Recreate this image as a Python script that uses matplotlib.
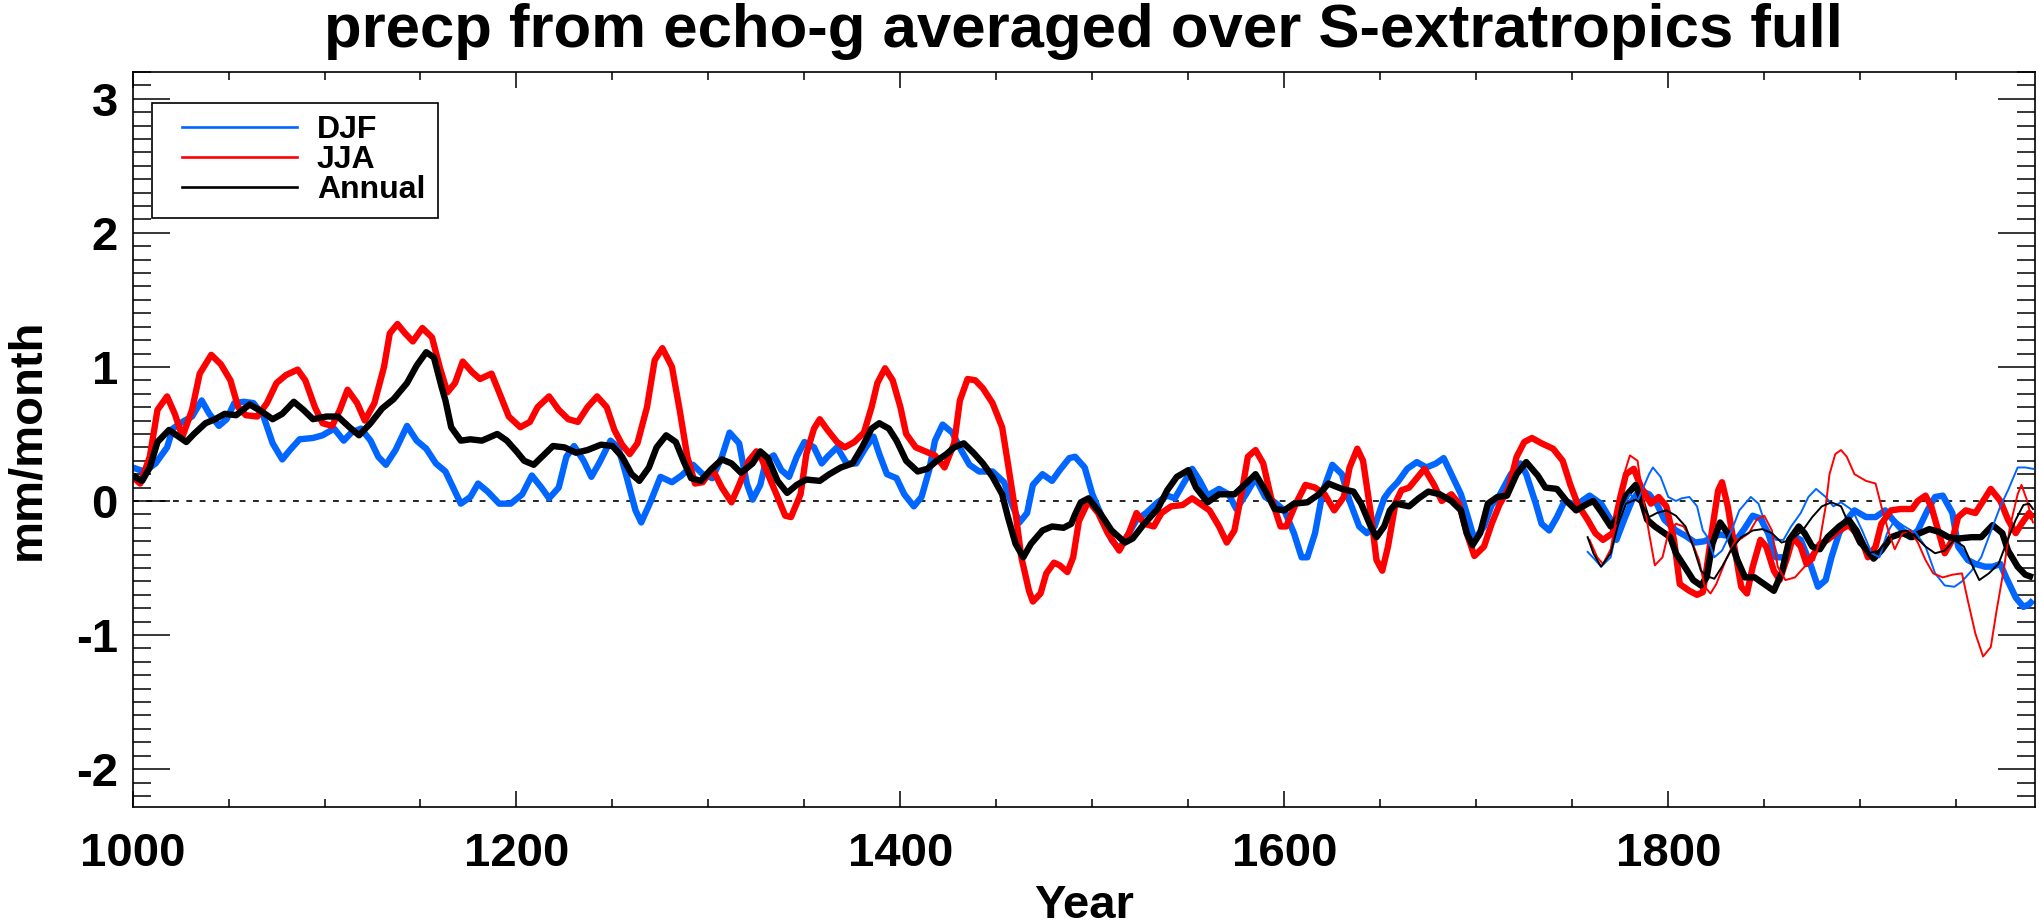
import numpy as np
import matplotlib
matplotlib.use('Agg')
import matplotlib.pyplot as plt
from matplotlib.lines import Line2D
from matplotlib.legend_handler import HandlerLine2D
from matplotlib.ticker import MultipleLocator

plt.rcParams['font.family'] = ['Liberation Sans', 'DejaVu Sans']
plt.rcParams['font.weight'] = 'bold'
plt.rcParams['axes.unicode_minus'] = False

# (year, mm/month), full run 1000-1990
djf_full = [
    (1000, 0.25), (1006, 0.22), (1012, 0.28), (1018, 0.40), (1021, 0.54), (1026, 0.59),
    (1031, 0.63), (1036, 0.75), (1040, 0.65), (1045, 0.56), (1049, 0.61), (1053, 0.73),
    (1058, 0.74), (1063, 0.73), (1068, 0.64), (1073, 0.43), (1078, 0.31), (1082, 0.38),
    (1087, 0.46), (1094, 0.47), (1099, 0.49), (1105, 0.54), (1110, 0.45), (1114, 0.51),
    (1119, 0.54), (1124, 0.45), (1128, 0.33), (1132, 0.27), (1137, 0.38), (1143, 0.56),
    (1148, 0.45), (1153, 0.39), (1158, 0.28), (1163, 0.22), (1167, 0.10), (1171, -0.02),
    (1176, 0.03), (1180, 0.13), (1185, 0.07), (1191, -0.02), (1197, -0.02), (1203, 0.05),
    (1208, 0.19), (1213, 0.10), (1217, 0.02), (1222, 0.10), (1226, 0.33), (1230, 0.41),
    (1235, 0.30), (1239, 0.18), (1243, 0.28), (1249, 0.45), (1253, 0.40), (1257, 0.20),
    (1262, -0.07), (1265, -0.16), (1270, 0.00), (1275, 0.18), (1281, 0.14), (1286, 0.19),
    (1292, 0.27), (1297, 0.20), (1302, 0.17), (1307, 0.33), (1311, 0.51), (1316, 0.43),
    (1320, 0.13), (1323, 0.01), (1327, 0.12), (1330, 0.30), (1334, 0.34), (1338, 0.23),
    (1342, 0.18), (1346, 0.33), (1350, 0.44), (1355, 0.40), (1359, 0.28), (1362, 0.33),
    (1367, 0.40), (1372, 0.28), (1377, 0.28), (1382, 0.40), (1386, 0.48), (1389, 0.35),
    (1393, 0.20), (1398, 0.17), (1402, 0.05), (1407, -0.04), (1411, 0.03), (1415, 0.23),
    (1418, 0.45), (1422, 0.57), (1427, 0.51), (1432, 0.37), (1436, 0.27), (1441, 0.22),
    (1448, 0.22), (1454, 0.14), (1458, -0.02), (1462, -0.16), (1466, -0.09), (1469, 0.12),
    (1474, 0.20), (1479, 0.15), (1483, 0.23), (1488, 0.32), (1491, 0.33), (1496, 0.25),
    (1500, 0.05), (1505, -0.12), (1510, -0.29), (1514, -0.36), (1519, -0.24), (1523, -0.14),
    (1528, -0.09), (1534, -0.01), (1539, 0.04), (1543, 0.02), (1547, 0.12), (1552, 0.24),
    (1556, 0.15), (1560, 0.04), (1566, 0.09), (1571, 0.05), (1575, -0.06), (1580, 0.05),
    (1585, 0.17), (1590, 0.03), (1595, -0.01), (1600, -0.07), (1605, -0.24), (1609, -0.42),
    (1612, -0.42), (1616, -0.24), (1620, 0.07), (1625, 0.27), (1630, 0.20), (1634, 0.00),
    (1639, -0.19), (1643, -0.24), (1647, -0.19), (1652, 0.02), (1655, 0.08), (1659, 0.14),
    (1664, 0.24), (1669, 0.29), (1674, 0.25), (1679, 0.28), (1683, 0.32), (1687, 0.20),
    (1692, 0.05), (1696, -0.14), (1699, -0.29), (1704, -0.19), (1708, -0.03), (1712, 0.04),
    (1718, 0.20), (1723, 0.28), (1726, 0.20), (1731, -0.02), (1734, -0.17), (1738, -0.22),
    (1742, -0.12), (1746, 0.00), (1752, -0.03), (1759, 0.04), (1765, -0.02), (1770, -0.14),
    (1773, -0.29), (1777, -0.14), (1781, 0.00), (1785, 0.08), (1790, 0.05), (1794, -0.02),
    (1798, -0.14), (1804, -0.22), (1809, -0.26), (1814, -0.31), (1819, -0.30), (1823, -0.27),
    (1827, -0.25), (1831, -0.26), (1836, -0.28), (1840, -0.20), (1844, -0.11), (1848, -0.13),
    (1852, -0.24), (1856, -0.42), (1861, -0.42), (1865, -0.26), (1869, -0.29), (1874, -0.47),
    (1878, -0.64), (1882, -0.59), (1885, -0.42), (1889, -0.24), (1893, -0.14), (1897, -0.07),
    (1903, -0.12), (1908, -0.12), (1913, -0.07), (1917, -0.14), (1922, -0.22), (1926, -0.27),
    (1930, -0.22), (1935, -0.07), (1939, 0.03), (1943, 0.04), (1948, -0.09), (1951, -0.34),
    (1956, -0.44), (1960, -0.47), (1965, -0.49), (1969, -0.49), (1973, -0.47), (1976, -0.57),
    (1981, -0.72), (1985, -0.79), (1988, -0.77), (1990, -0.74),
]

jja_full = [
    (1000, 0.18), (1004, 0.13), (1009, 0.33), (1013, 0.68), (1018, 0.78), (1022, 0.65),
    (1026, 0.48), (1031, 0.68), (1035, 0.95), (1041, 1.09), (1046, 1.02), (1051, 0.90),
    (1055, 0.70), (1059, 0.64), (1065, 0.63), (1070, 0.73), (1075, 0.88), (1080, 0.94),
    (1086, 0.98), (1090, 0.90), (1095, 0.70), (1099, 0.58), (1104, 0.56), (1108, 0.68),
    (1112, 0.83), (1117, 0.73), (1121, 0.60), (1126, 0.73), (1131, 1.00), (1134, 1.25),
    (1138, 1.32), (1142, 1.25), (1146, 1.19), (1151, 1.29), (1156, 1.22), (1160, 1.00),
    (1164, 0.81), (1168, 0.88), (1172, 1.04), (1177, 0.96), (1181, 0.91), (1187, 0.95),
    (1191, 0.81), (1196, 0.63), (1202, 0.55), (1207, 0.59), (1211, 0.70), (1217, 0.78),
    (1222, 0.68), (1227, 0.61), (1232, 0.59), (1237, 0.70), (1242, 0.78), (1247, 0.70),
    (1251, 0.53), (1255, 0.42), (1259, 0.35), (1263, 0.43), (1268, 0.70), (1272, 1.05),
    (1276, 1.14), (1281, 1.00), (1285, 0.68), (1289, 0.33), (1293, 0.13), (1297, 0.14),
    (1302, 0.24), (1307, 0.10), (1312, -0.01), (1316, 0.12), (1321, 0.30), (1325, 0.37),
    (1327, 0.34), (1331, 0.20), (1336, 0.03), (1340, -0.11), (1343, -0.12), (1348, 0.05),
    (1351, 0.35), (1355, 0.54), (1358, 0.61), (1362, 0.53), (1367, 0.44), (1371, 0.40),
    (1376, 0.44), (1381, 0.51), (1385, 0.70), (1388, 0.88), (1392, 0.99), (1396, 0.90),
    (1400, 0.70), (1403, 0.50), (1408, 0.40), (1413, 0.37), (1418, 0.34), (1423, 0.25),
    (1428, 0.43), (1431, 0.75), (1435, 0.91), (1439, 0.90), (1443, 0.84), (1448, 0.73),
    (1453, 0.55), (1456, 0.28), (1460, -0.09), (1463, -0.42), (1467, -0.67), (1469, -0.75),
    (1473, -0.69), (1476, -0.54), (1480, -0.46), (1483, -0.48), (1487, -0.53), (1490, -0.42),
    (1493, -0.15), (1498, 0.00), (1503, -0.09), (1508, -0.24), (1514, -0.37), (1519, -0.24),
    (1523, -0.09), (1527, -0.17), (1532, -0.19), (1536, -0.09), (1541, -0.04), (1547, -0.03),
    (1552, 0.02), (1556, -0.02), (1561, -0.07), (1566, -0.19), (1570, -0.31), (1574, -0.22),
    (1578, 0.08), (1581, 0.33), (1585, 0.38), (1589, 0.28), (1593, 0.03), (1598, -0.19),
    (1601, -0.19), (1606, -0.02), (1611, 0.12), (1616, 0.10), (1621, 0.05), (1626, -0.07),
    (1631, 0.03), (1634, 0.25), (1638, 0.39), (1641, 0.30), (1645, -0.09), (1648, -0.44),
    (1651, -0.52), (1654, -0.34), (1658, -0.01), (1661, 0.08), (1665, 0.10), (1669, 0.17),
    (1673, 0.24), (1678, 0.12), (1682, 0.00), (1687, 0.05), (1691, -0.02), (1695, -0.24),
    (1699, -0.41), (1704, -0.34), (1708, -0.17), (1712, -0.03), (1717, 0.10), (1721, 0.33),
    (1725, 0.44), (1729, 0.47), (1734, 0.43), (1740, 0.39), (1745, 0.30), (1749, 0.12),
    (1753, -0.03), (1758, -0.14), (1762, -0.24), (1766, -0.29), (1771, -0.24), (1775, 0.03),
    (1778, 0.20), (1782, 0.24), (1786, 0.10), (1791, -0.02), (1795, 0.03), (1799, -0.04),
    (1803, -0.29), (1806, -0.62), (1811, -0.67), (1815, -0.70), (1818, -0.68), (1820, -0.50),
    (1823, -0.20), (1826, 0.08), (1828, 0.14), (1831, -0.04), (1835, -0.39), (1838, -0.64),
    (1841, -0.69), (1844, -0.49), (1848, -0.29), (1851, -0.34), (1855, -0.52), (1858, -0.59),
    (1862, -0.42), (1865, -0.27), (1869, -0.34), (1872, -0.47), (1876, -0.39), (1879, -0.32),
    (1883, -0.29), (1889, -0.22), (1894, -0.18), (1898, -0.24), (1902, -0.34), (1904, -0.42),
    (1908, -0.34), (1911, -0.17), (1916, -0.07), (1921, -0.06), (1927, -0.06), (1930, 0.00),
    (1934, 0.04), (1937, -0.04), (1941, -0.24), (1944, -0.39), (1948, -0.29), (1951, -0.12),
    (1955, -0.07), (1960, -0.09), (1964, 0.00), (1968, 0.09), (1973, 0.00), (1977, -0.14),
    (1981, -0.24), (1984, -0.17), (1988, -0.09), (1990, -0.13),
]

ann_full = [
    (1000, 0.19), (1005, 0.15), (1009, 0.25), (1013, 0.44), (1019, 0.53), (1023, 0.49),
    (1028, 0.44), (1032, 0.50), (1038, 0.58), (1043, 0.61), (1048, 0.65), (1054, 0.64),
    (1061, 0.72), (1067, 0.67), (1073, 0.61), (1078, 0.65), (1084, 0.74), (1089, 0.68),
    (1094, 0.61), (1101, 0.63), (1107, 0.63), (1113, 0.55), (1118, 0.49), (1124, 0.58),
    (1130, 0.69), (1136, 0.76), (1143, 0.88), (1148, 1.01), (1153, 1.11), (1157, 1.07),
    (1161, 0.85), (1163, 0.75), (1166, 0.55), (1171, 0.45), (1176, 0.46), (1182, 0.45),
    (1190, 0.50), (1195, 0.45), (1200, 0.37), (1204, 0.30), (1209, 0.27), (1214, 0.34),
    (1219, 0.41), (1225, 0.40), (1231, 0.36), (1237, 0.38), (1244, 0.42), (1250, 0.41),
    (1255, 0.33), (1260, 0.20), (1264, 0.15), (1269, 0.25), (1273, 0.40), (1278, 0.49),
    (1283, 0.44), (1287, 0.30), (1291, 0.17), (1296, 0.15), (1301, 0.23), (1307, 0.31),
    (1312, 0.28), (1317, 0.21), (1323, 0.28), (1327, 0.37), (1331, 0.32), (1336, 0.15),
    (1341, 0.06), (1346, 0.12), (1351, 0.16), (1358, 0.15), (1363, 0.20), (1369, 0.25),
    (1375, 0.28), (1380, 0.40), (1385, 0.54), (1389, 0.58), (1394, 0.54), (1398, 0.45),
    (1403, 0.30), (1409, 0.22), (1414, 0.24), (1419, 0.30), (1424, 0.35), (1428, 0.40),
    (1433, 0.43), (1438, 0.36), (1443, 0.28), (1448, 0.18), (1453, 0.05), (1456, -0.12),
    (1460, -0.32), (1464, -0.42), (1468, -0.32), (1474, -0.22), (1479, -0.19), (1485, -0.20),
    (1489, -0.17), (1491, -0.10), (1494, -0.01), (1498, 0.02), (1504, -0.09), (1510, -0.22),
    (1517, -0.31), (1521, -0.28), (1527, -0.17), (1534, -0.06), (1539, 0.08), (1544, 0.18),
    (1550, 0.23), (1554, 0.10), (1560, -0.01), (1566, 0.05), (1574, 0.05), (1580, 0.13),
    (1585, 0.20), (1590, 0.08), (1595, -0.06), (1600, -0.07), (1605, -0.02), (1612, -0.01),
    (1618, 0.05), (1623, 0.13), (1630, 0.09), (1636, 0.07), (1640, -0.02), (1645, -0.19),
    (1648, -0.27), (1652, -0.19), (1655, -0.07), (1658, -0.02), (1665, -0.04), (1670, 0.02),
    (1675, 0.07), (1681, 0.05), (1687, 0.00), (1692, -0.07), (1695, -0.24), (1698, -0.33),
    (1702, -0.24), (1706, -0.02), (1711, 0.03), (1716, 0.04), (1721, 0.20), (1726, 0.29),
    (1732, 0.19), (1736, 0.10), (1742, 0.09), (1747, 0.00), (1752, -0.07), (1758, -0.02),
    (1761, 0.00), (1765, -0.08), (1770, -0.19), (1774, -0.12), (1778, 0.04), (1783, 0.12),
    (1785, 0.05), (1789, -0.14), (1793, -0.19), (1797, -0.23), (1801, -0.27), (1804, -0.39),
    (1809, -0.50), (1813, -0.59), (1817, -0.63), (1820, -0.57), (1823, -0.32), (1827, -0.16),
    (1831, -0.24), (1836, -0.44), (1840, -0.57), (1845, -0.57), (1850, -0.62), (1855, -0.67),
    (1859, -0.54), (1863, -0.29), (1868, -0.19), (1871, -0.24), (1875, -0.34), (1879, -0.36),
    (1883, -0.27), (1889, -0.19), (1894, -0.14), (1898, -0.22), (1902, -0.34), (1907, -0.43),
    (1911, -0.37), (1916, -0.27), (1922, -0.24), (1927, -0.27), (1931, -0.24), (1936, -0.21),
    (1941, -0.23), (1946, -0.27), (1951, -0.28), (1958, -0.27), (1963, -0.27), (1969, -0.18),
    (1974, -0.24), (1977, -0.37), (1982, -0.49), (1986, -0.55), (1990, -0.57),
]

# thin curves: second set, 1758-1990
djf_late = [
    (1758, -0.38), (1762, -0.44), (1765, -0.49), (1770, -0.42), (1773, -0.22), (1777, -0.04),
    (1780, 0.05), (1784, 0.00), (1787, 0.10), (1790, 0.20), (1792, 0.25), (1796, 0.18),
    (1800, 0.03), (1804, 0.00), (1807, 0.02), (1811, 0.03), (1815, -0.04), (1818, -0.22),
    (1820, -0.26), (1824, -0.42), (1828, -0.37), (1833, -0.22), (1837, -0.07), (1843, 0.03),
    (1847, -0.02), (1851, -0.19), (1856, -0.29), (1860, -0.29), (1864, -0.19), (1869, -0.09),
    (1873, 0.03), (1877, 0.09), (1882, 0.03), (1886, -0.04), (1890, -0.01), (1896, -0.07),
    (1901, -0.22), (1906, -0.39), (1910, -0.42), (1914, -0.24), (1918, -0.14), (1923, -0.19),
    (1929, -0.24), (1934, -0.34), (1939, -0.54), (1944, -0.63), (1949, -0.64), (1953, -0.60),
    (1958, -0.52), (1963, -0.42), (1969, -0.19), (1973, -0.04), (1977, 0.08), (1982, 0.25),
    (1986, 0.25), (1990, 0.24),
]

jja_late = [
    (1759, -0.29), (1763, -0.42), (1766, -0.47), (1770, -0.36), (1773, -0.12), (1777, 0.20),
    (1780, 0.34), (1784, 0.30), (1786, 0.10), (1790, -0.24), (1793, -0.48), (1797, -0.42),
    (1800, -0.24), (1804, -0.17), (1808, -0.19), (1812, -0.29), (1816, -0.44), (1819, -0.64),
    (1822, -0.69), (1825, -0.62), (1830, -0.44), (1835, -0.29), (1838, -0.28), (1842, -0.24),
    (1846, -0.14), (1850, -0.11), (1854, -0.22), (1857, -0.49), (1861, -0.59), (1866, -0.57),
    (1871, -0.49), (1876, -0.44), (1879, -0.29), (1882, -0.04), (1884, 0.20), (1887, 0.35),
    (1890, 0.38), (1893, 0.33), (1897, 0.20), (1903, 0.15), (1908, 0.13), (1911, -0.04),
    (1915, -0.24), (1918, -0.36), (1922, -0.24), (1926, -0.22), (1930, -0.31), (1934, -0.44),
    (1938, -0.54), (1943, -0.57), (1948, -0.55), (1953, -0.54), (1956, -0.74), (1960, -0.99),
    (1964, -1.16), (1968, -1.09), (1971, -0.82), (1975, -0.49), (1978, -0.19), (1982, 0.05),
    (1984, 0.12), (1987, 0.00), (1989, -0.12), (1990, -0.16),
]

ann_late = [
    (1758, -0.27), (1761, -0.39), (1765, -0.49), (1770, -0.39), (1774, -0.17), (1778, -0.02),
    (1783, 0.01), (1786, -0.02), (1790, -0.12), (1794, -0.09), (1799, -0.07), (1804, -0.11),
    (1809, -0.19), (1813, -0.34), (1817, -0.52), (1820, -0.56), (1824, -0.58), (1828, -0.49),
    (1833, -0.36), (1838, -0.27), (1844, -0.22), (1849, -0.21), (1854, -0.24), (1859, -0.31),
    (1864, -0.29), (1870, -0.22), (1875, -0.12), (1880, -0.04), (1885, -0.01), (1890, -0.04),
    (1894, -0.17), (1899, -0.32), (1904, -0.39), (1910, -0.37), (1914, -0.29), (1919, -0.24),
    (1924, -0.22), (1929, -0.27), (1934, -0.34), (1939, -0.39), (1944, -0.37), (1949, -0.29),
    (1954, -0.34), (1958, -0.47), (1962, -0.59), (1967, -0.54), (1972, -0.47), (1976, -0.32),
    (1981, -0.14), (1985, -0.03), (1988, -0.02), (1990, -0.06),
]

series_names = ['DJF', 'JJA', 'Annual']
series_colors = ['#0066ff', '#ff0000', '#000000']

fig = plt.figure(figsize=(20.39, 9.24), dpi=100)
ax = fig.add_axes([0.0650, 0.1270, 0.9330, 0.7951])

ax.axhline(0, color='k', lw=1.2, ls=(0, (3.5, 4.5)), zorder=1)

for data, col in zip([djf_full, jja_full, ann_full], series_colors):
    yrs, vals = np.array(data).T
    ax.plot(yrs, vals, color=col, lw=4.6, solid_joinstyle='round', solid_capstyle='butt', zorder=2)

for data, col in zip([djf_late, jja_late, ann_late], series_colors):
    yrs, vals = np.array(data).T
    ax.plot(yrs, vals, color=col, lw=1.4, solid_joinstyle='round', zorder=3)

ax.set_xlim(1000, 1991)
ax.set_ylim(-2.28, 3.2)
ax.xaxis.set_major_locator(MultipleLocator(200))
ax.xaxis.set_minor_locator(MultipleLocator(50))
ax.yaxis.set_major_locator(MultipleLocator(1))
ax.yaxis.set_minor_locator(MultipleLocator(0.1))

ax.tick_params(axis='both', which='both', direction='in', top=True, right=True, width=1.1,
               labelsize=34)
ax.tick_params(axis='x', which='major', length=11.3, pad=18)
ax.tick_params(axis='x', which='minor', length=5.6)
ax.tick_params(axis='y', which='major', length=26.6, pad=10.5)
ax.tick_params(axis='y', which='minor', length=13.3)
for s in ax.spines.values():
    s.set_linewidth(1.2)

ax.set_xlabel('Year', fontsize=34, fontweight='bold', labelpad=6)
ax.set_ylabel('mm/month', fontsize=34, fontweight='bold', labelpad=19)
ax.set_title('precp from echo-g averaged over S-extratropics full', fontsize=44.5,
             fontweight='bold', pad=18)

handles = [Line2D([], [], color=c, lw=1.9) for c in series_colors]
leg = ax.legend(handles, series_names, loc='upper left', bbox_to_anchor=(0.01004, 0.9582),
                borderaxespad=0, fontsize=23, frameon=True, fancybox=False, shadow=False,
                borderpad=0.4, labelspacing=0.0, handlelength=4.14, handletextpad=0.63,
                handler_map={Line2D: HandlerLine2D(xpad=0.556)},
                prop={'weight': 'bold', 'size': 23})
leg.get_frame().set_edgecolor('k')
leg.get_frame().set_linewidth(1.2)
leg.get_frame().set_alpha(1)

fig.savefig('out.png', dpi=100)
